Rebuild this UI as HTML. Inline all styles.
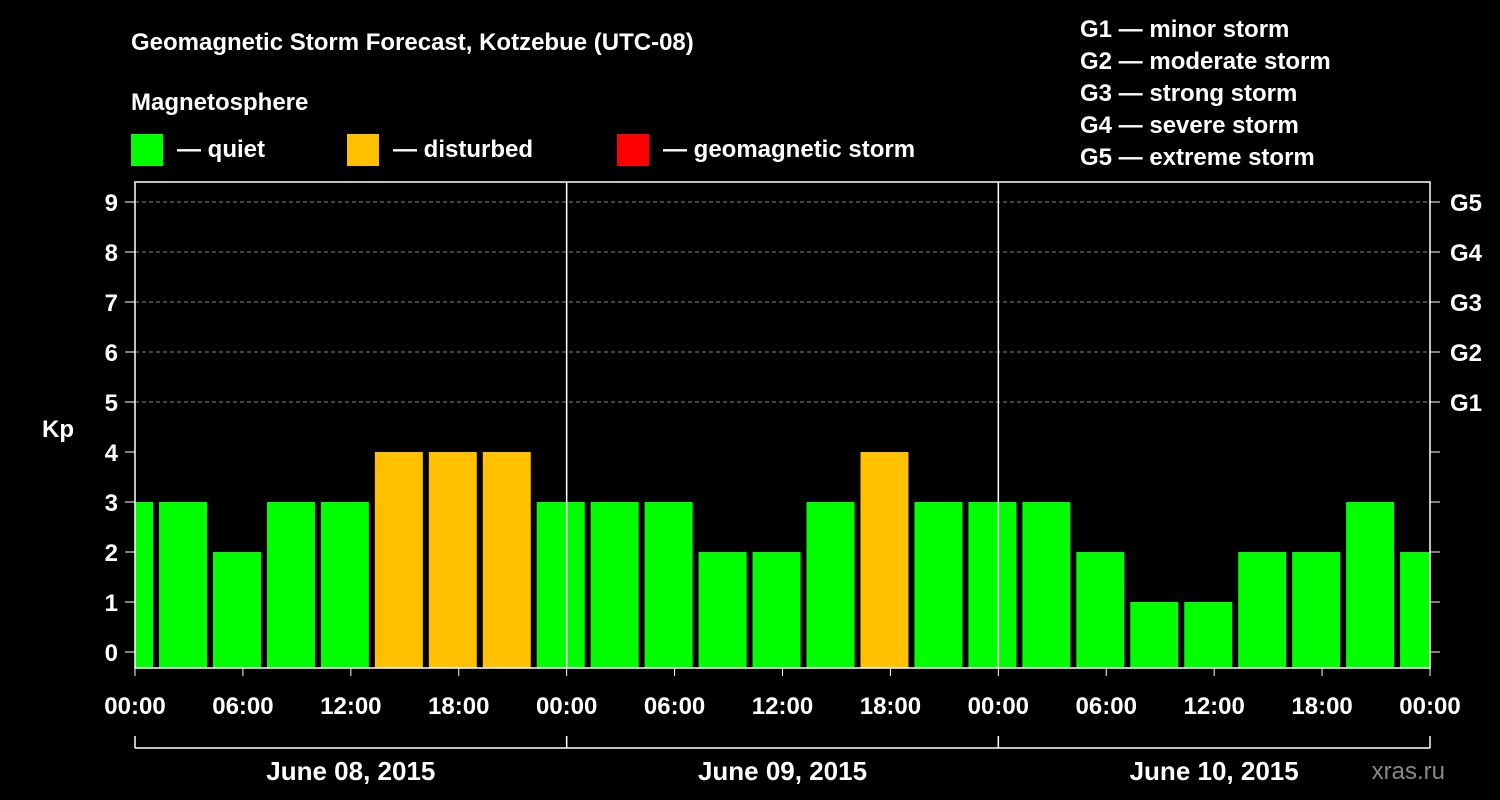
<!DOCTYPE html>
<html><head><meta charset="utf-8"><style>
body{margin:0;background:#000;width:1500px;height:800px;overflow:hidden}
svg{display:block;font-family:"Liberation Sans",Arial,sans-serif;font-weight:bold}
</style></head><body>
<svg id="c" width="1500" height="800">
<text x="131" y="50" fill="#fff" font-size="24">Geomagnetic Storm Forecast, Kotzebue (UTC-08)</text>
<text x="131" y="110" fill="#fff" font-size="24">Magnetosphere</text>
<rect x="131" y="134" width="32" height="32" fill="#00ff00"/>
<text x="177" y="157" fill="#fff" font-size="24">— quiet</text>
<rect x="347" y="134" width="32" height="32" fill="#ffc000"/>
<text x="393" y="157" fill="#fff" font-size="24">— disturbed</text>
<rect x="617" y="134" width="32" height="32" fill="#ff0000"/>
<text x="663" y="157" fill="#fff" font-size="24">— geomagnetic storm</text>
<g fill="#fff" font-size="24">
<text x="1080" y="37">G1 — minor storm</text>
<text x="1080" y="69">G2 — moderate storm</text>
<text x="1080" y="101">G3 — strong storm</text>
<text x="1080" y="133">G4 — severe storm</text>
<text x="1080" y="165">G5 — extreme storm</text>
</g>
<text x="42" y="437" fill="#fff" font-size="24">Kp</text>
<text x="1445" y="779" fill="#888" font-size="24" text-anchor="end" font-weight="normal">xras.ru</text>
<g id="plot"></g>
</svg>
<script>
const kpValues=[3,3,2,3,3,4,4,4,3,3,3,2,2,3,4,3,3,3,2,1,1,2,2,3,2];
const yTicks=[0,1,2,3,4,5,6,7,8,9];
const gLabels=["G1","G2","G3","G4","G5"];
const xTickLabels=["00:00","06:00","12:00","18:00","00:00","06:00","12:00","18:00","00:00","06:00","12:00","18:00","00:00"];
const dayLabels=["June 08, 2015","June 09, 2015","June 10, 2015"];
const firstBinStartHours=-1.83;
const NS="http://www.w3.org/2000/svg";
const L=135,R=1430,T=182,B=668;
const hourW=(R-L)/72;
const x=h=>L+h*hourW;
const y=v=>652-v*50;
const g=document.getElementById('plot');
function mk(tag,a,p){const e=document.createElementNS(NS,tag);for(const k in a)e.setAttribute(k,a[k]);(p||g).appendChild(e);return e;}
// clip
const cp=mk('clipPath',{id:'pc'});mk('rect',{x:L,y:T,width:R-L,height:B-T},cp);
const bars=mk('g',{'clip-path':'url(#pc)'});


kpValues.forEach((v,i)=>{
 const x0=x(firstBinStartHours+i*3)+3,x1=x(firstBinStartHours+(i+1)*3)-3;
 const col=v>=5?'#ff0000':v>=4?'#ffc000':'#00ff00';
 const r=mk('rect',{x:x0,y:y(v),width:x1-x0,height:B-y(v),fill:col},bars);
 
 
});
yTicks.forEach(v=>{
 if(v>=5){const d=mk('line',{x1:L,x2:R,y1:y(v),y2:y(v),stroke:'#888','stroke-dasharray':'4,3','stroke-width':1});
 }
 mk('line',{x1:L-10,x2:L,y1:y(v),y2:y(v),stroke:'#fff','stroke-width':1});
 mk('line',{x1:R,x2:R+10,y1:y(v),y2:y(v),stroke:'#fff','stroke-width':1});
 const t=mk('text',{x:L-17,y:y(v)+9,fill:'#fff','font-size':24,'text-anchor':'end'});t.textContent=v;
 
});
gLabels.forEach((s,i)=>{const t=mk('text',{x:R+20,y:y(5+i)+9,fill:'#fff','font-size':24});t.textContent=s;
 });
mk('rect',{x:L,y:T,width:R-L,height:B-T,fill:'none',stroke:'#fff','stroke-width':1.5});
[1,2].forEach(d=>{const l=mk('line',{x1:x(d*24),x2:x(d*24),y1:T,y2:B,stroke:'#fff','stroke-width':1.5});
 });
xTickLabels.forEach((s,i)=>{const xx=x(i*6);
 mk('line',{x1:xx,x2:xx,y1:B,y2:B+8,stroke:'#fff','stroke-width':1});
 const t=mk('text',{x:xx,y:714,fill:'#fff','font-size':24,'text-anchor':'middle'});t.textContent=s;
 });
mk('line',{x1:L,x2:R,y1:748,y2:748,stroke:'#fff','stroke-width':1.5});
[0,1,2,3].forEach(d=>mk('line',{x1:x(d*24),x2:x(d*24),y1:736,y2:748,stroke:'#fff','stroke-width':1.5}));
dayLabels.forEach((s,i)=>{const t=mk('text',{x:x(i*24+12),y:780,fill:'#fff','font-size':26,'text-anchor':'middle'});t.textContent=s;
 });
</script>
</body></html>
